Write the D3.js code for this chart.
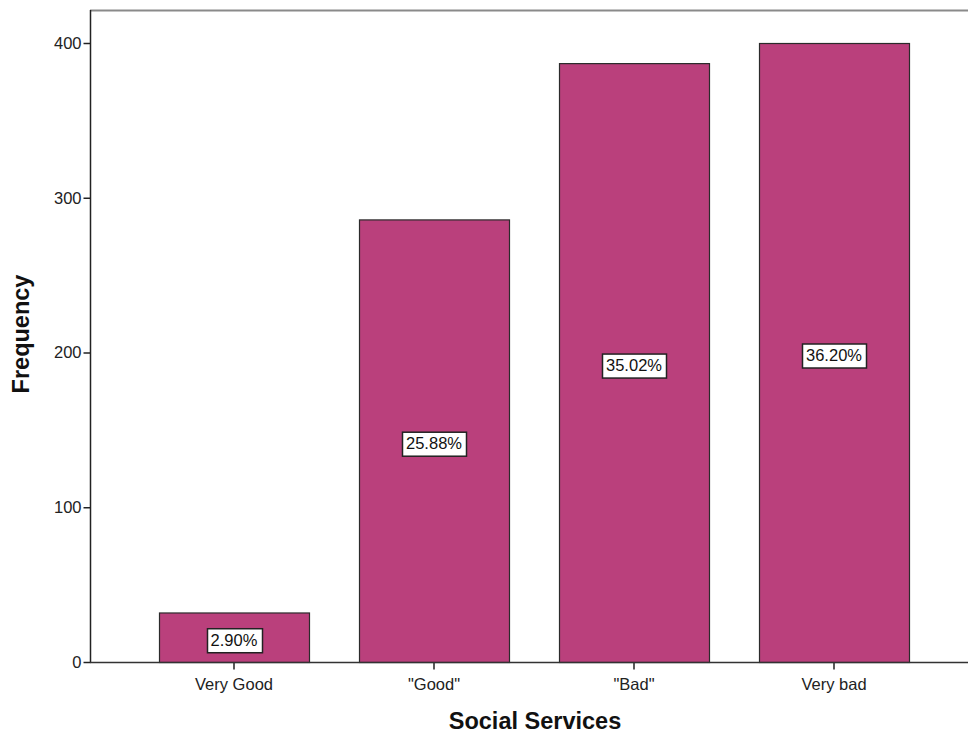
<!DOCTYPE html>
<html><head><meta charset="utf-8">
<script src="https://cdn.jsdelivr.net/npm/d3@7"></script>
<style>body{margin:0;background:#fff;} svg{display:block;}</style>
</head><body>
<script>
const categories = ["Very Good", "\"Good\"", "\"Bad\"", "Very bad"];
const frequencies = [32, 286, 387, 400];
const percentLabels = ["2.90%", "25.88%", "35.02%", "36.20%"];
const yTicks = [0, 100, 200, 300, 400];

const W = 968, H = 735;
const svg = d3.select("body").append("svg").attr("width", W).attr("height", H);
const font = "'Liberation Sans', Arial, sans-serif";
const fs = 16.5;

const x = d3.scaleBand().domain(categories).range([134, 934]).paddingInner(0.25).paddingOuter(0.125);
const y = d3.scaleLinear().domain([0, 400]).range([662, 43]);
const plotLeft = 90, plotTop = 10, plotRight = 968;

// top frame line
svg.append("line").attr("x1", plotLeft).attr("x2", plotRight).attr("y1", plotTop + 0.5).attr("y2", plotTop + 0.5)
  .attr("stroke", "#8a8a8a").attr("stroke-width", 2);

// bars
svg.selectAll("rect.bar").data(categories).enter().append("rect")
  .attr("class", "bar")
  .attr("x", d => x(d) + 0.5)
  .attr("y", (d, i) => y(frequencies[i]) + 0.5)
  .attr("width", x.bandwidth())
  .attr("height", (d, i) => y(0) - y(frequencies[i]))
  .attr("fill", "#BA407C").attr("stroke", "#2b2b2b").attr("stroke-width", 1.2);

// y axis
const yAxis = d3.axisLeft(y).tickValues(yTicks).tickSize(7).tickPadding(2);
const gy = svg.append("g").attr("transform", `translate(${plotLeft + 0.5},0)`).call(yAxis);
gy.select(".domain").remove();
gy.selectAll(".tick line").attr("stroke", "#222").attr("stroke-width", 1.5);
gy.selectAll(".tick text").attr("font-family", font).attr("font-size", fs).attr("fill", "#222");
svg.append("line").attr("x1", plotLeft + 0.5).attr("x2", plotLeft + 0.5).attr("y1", plotTop).attr("y2", y(0))
  .attr("stroke", "#222").attr("stroke-width", 1.5);

// x axis
const xAxis = d3.axisBottom(x).tickSize(7).tickPadding(9);
const gx = svg.append("g").attr("transform", `translate(0,${y(0) + 0.5})`).call(xAxis);
gx.select(".domain").remove();
gx.selectAll(".tick line").attr("stroke", "#222").attr("stroke-width", 1.5);
gx.selectAll(".tick text").attr("font-family", font).attr("font-size", fs).attr("fill", "#222");
svg.append("line").attr("x1", plotLeft).attr("x2", plotRight).attr("y1", y(0) + 0.5).attr("y2", y(0) + 0.5)
  .attr("stroke", "#333").attr("stroke-width", 1.5);

// percent labels
const lab = svg.selectAll("g.lab").data(categories).enter().append("g")
  .attr("transform", (d, i) => `translate(${x(d) + x.bandwidth() / 2},${(y(frequencies[i]) + y(0)) / 2 + 3})`);
lab.append("text").attr("text-anchor", "middle").attr("dy", "0.35em")
  .attr("font-family", font).attr("font-size", fs).attr("fill", "#111")
  .text((d, i) => percentLabels[i]);
lab.each(function() {
  const g = d3.select(this);
  const bb = g.select("text").node().getBBox();
  g.insert("rect", "text")
    .attr("x", Math.round(bb.x - 4) + 0.5).attr("y", Math.round(bb.y - 3) + 0.5)
    .attr("width", Math.round(bb.width + 8)).attr("height", Math.round(bb.height + 6))
    .attr("fill", "#fff").attr("stroke", "#222").attr("stroke-width", 1.5);
});

// axis titles
svg.append("text").attr("x", 535).attr("y", 729).attr("text-anchor", "middle")
  .attr("font-family", font).attr("font-weight", "bold").attr("font-size", 23.5).attr("fill", "#111")
  .text("Social Services");
svg.append("text").attr("transform", "translate(29,334) rotate(-90)").attr("text-anchor", "middle")
  .attr("font-family", font).attr("font-weight", "bold").attr("font-size", 23.5).attr("fill", "#111")
  .text("Frequency");
</script>
</body></html>
